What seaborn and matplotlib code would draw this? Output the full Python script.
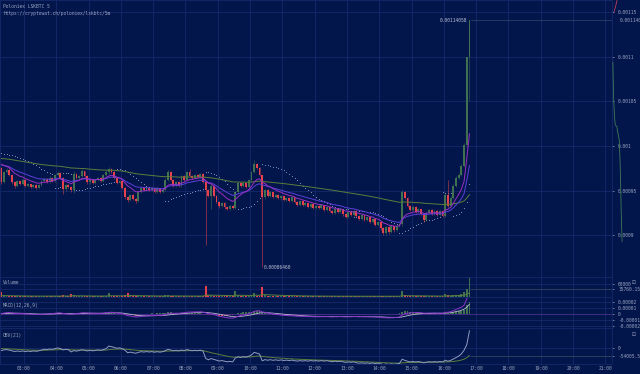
import matplotlib
matplotlib.use("Agg")
import matplotlib.pyplot as plt
import numpy as np
import pandas as pd
import seaborn as sns

# Poloniex LSK/BTC 5m candles, prices in units of 1e-7 BTC, first candle opens 02:15
start_hour = 2.25
first_open = 9754
closes = [
    9597, 9709, 9732, 9676, 9597, 9553, 9608, 9575, 9620, 9553,
    9575, 9540, 9564, 9530, 9564, 9608, 9630, 9597, 9642, 9608,
    9676, 9698, 9642, 9519, 9564, 9540, 9508, 9687, 9642, 9665,
    9720, 9665, 9597, 9620, 9586, 9620, 9642, 9608, 9676, 9709,
    9743, 9709, 9642, 9586, 9608, 9530, 9430, 9396, 9452, 9407,
    9385, 9485, 9530, 9508, 9530, 9508, 9530, 9485, 9530, 9485,
    9508, 9620, 9709, 9620, 9553, 9597, 9553, 9665, 9620, 9709,
    9665, 9642, 9676, 9653, 9687, 9597, 9508, 9441, 9553, 9441,
    9374, 9329, 9363, 9318, 9295, 9329, 9306, 9485, 9586, 9553,
    9586, 9540, 9620, 9709, 9799, 9754, 9676, 9430, 9508, 9441,
    9485, 9430, 9452, 9418, 9441, 9396, 9418, 9385, 9430, 9374,
    9340, 9385, 9340, 9363, 9318, 9352, 9306, 9329, 9306, 9340,
    9284, 9318, 9273, 9250, 9295, 9262, 9295, 9239, 9206, 9262,
    9228, 9273, 9217, 9183, 9228, 9172, 9206, 9150, 9183, 9116,
    9150, 9083, 9027, 9094, 9038, 9105, 9060, 9105, 9128, 9485,
    9418, 9329, 9284, 9318, 9262, 9295, 9239, 9172, 9250, 9284,
    9239, 9273, 9228, 9273, 9217, 9452, 9329, 9418, 9553, 9642,
    9676, 9776, 10011, 10996, 11405.8,
]
highs = [
    9770, 9720, 9750, 9740, 9690, 9610, 9620, 9615, 9640, 9630,
    9590, 9580, 9575, 9570, 9580, 9620, 9645, 9640, 9660, 9650,
    9690, 9720, 9710, 9650, 9575, 9575, 9550, 9720, 9695, 9680,
    9740, 9725, 9670, 9630, 9625, 9630, 9655, 9650, 9690, 9730,
    9770, 9750, 9715, 9650, 9620, 9615, 9540, 9440, 9465, 9460,
    9415, 9500, 9545, 9540, 9540, 9535, 9545, 9535, 9540, 9535,
    9520, 9640, 9730, 9715, 9630, 9610, 9605, 9680, 9670, 9725,
    9740, 9680, 9690, 9690, 9700, 9700, 9610, 9520, 9570, 9560,
    9450, 9385, 9375, 9370, 9330, 9340, 9340, 9500, 9600, 9600,
    9600, 9590, 9635, 9720, 9843, 9810, 9765, 9680, 9520, 9515,
    9495, 9490, 9465, 9460, 9450, 9445, 9430, 9425, 9440, 9435,
    9380, 9395, 9390, 9375, 9370, 9365, 9360, 9340, 9335, 9355,
    9345, 9330, 9325, 9280, 9310, 9300, 9305, 9300, 9245, 9275,
    9270, 9285, 9280, 9225, 9240, 9235, 9220, 9215, 9195, 9190,
    9165, 9160, 9090, 9105, 9100, 9115, 9110, 9120, 9140, 9510,
    9500, 9425, 9340, 9330, 9325, 9305, 9300, 9245, 9260, 9300,
    9290, 9285, 9280, 9285, 9280, 9470, 9620, 9440, 9570, 9660,
    9700, 9800, 10030, 11000, 11405.8,
]
lows = [
    9580, 9590, 9700, 9660, 9580, 9530, 9540, 9560, 9565, 9540,
    9540, 9530, 9535, 9520, 9525, 9555, 9600, 9585, 9590, 9600,
    9600, 9660, 9630, 9460, 9500, 9530, 9490, 9470, 9630, 9620,
    9650, 9655, 9580, 9580, 9575, 9580, 9610, 9595, 9600, 9660,
    9690, 9700, 9630, 9575, 9570, 9520, 9410, 9370, 9380, 9395,
    9360, 9370, 9470, 9500, 9500, 9495, 9500, 9475, 9470, 9470,
    9475, 9500, 9610, 9610, 9540, 9540, 9545, 9545, 9610, 9610,
    9655, 9630, 9630, 9640, 9640, 9585, 8893, 9430, 9290, 9430,
    9360, 9310, 9315, 9300, 9280, 9285, 9295, 9290, 9470, 9540,
    9545, 9530, 9530, 9610, 9700, 9740, 9665, 8646, 9410, 9430,
    9430, 9420, 9420, 9405, 9400, 9385, 9390, 9375, 9375, 9360,
    9330, 9330, 9330, 9330, 9305, 9310, 9295, 9295, 9300, 9300,
    9270, 9275, 9260, 9235, 9240, 9250, 9255, 9220, 9190, 9195,
    9215, 9220, 9205, 9170, 9175, 9160, 9160, 9140, 9140, 9100,
    9100, 9060, 9000, 9010, 9020, 9030, 9040, 9050, 9090, 9110,
    9405, 9315, 9270, 9275, 9250, 9255, 9225, 9150, 9165, 9240,
    9230, 9230, 9215, 9220, 9205, 9205, 9315, 9320, 9410, 9540,
    9630, 9660, 9760, 9990, 10500,
]
volumes = [
    22000, 4000, 2500, 3500, 5000, 4500, 3000, 2500, 3000, 4000,
    3000, 2500, 4000, 3000, 3500, 5000, 6000, 3000, 4500, 3000,
    5500, 4000, 3500, 9000, 4000, 3000, 15000, 9000, 3500, 4000,
    5000, 3000, 4500, 3500, 3000, 2500, 3500, 3000, 5000, 6000,
    18000, 4000, 5000, 6000, 3000, 6000, 9000, 18000, 4000, 3500,
    4000, 6000, 5000, 3000, 3500, 3000, 2500, 4000, 3500, 3000,
    3000, 7000, 9000, 5000, 4500, 3000, 3500, 5000, 3000, 6000,
    4000, 3500, 3000, 2500, 3500, 6000, 50000, 9000, 8000, 5000,
    6000, 5500, 3000, 4000, 4500, 3000, 3500, 26000, 9000, 4000,
    5000, 3500, 6000, 8000, 18000, 5000, 6000, 46000, 8000, 4000,
    3500, 4000, 3000, 3500, 3000, 4000, 2500, 3000, 3500, 4000,
    3000, 3500, 3000, 2500, 3000, 3500, 3000, 2500, 3000, 3500,
    3500, 3000, 4000, 3000, 3500, 3000, 2500, 4000, 3500, 3000,
    3000, 3500, 6000, 3000, 2500, 3000, 2500, 3500, 3000, 4000,
    3000, 4500, 5000, 3500, 3000, 3500, 3000, 3000, 4000, 28000,
    8000, 6000, 4500, 3500, 4000, 3000, 3500, 5000, 4000, 3500,
    3000, 3500, 3000, 3500, 3000, 12000, 7000, 6000, 9000, 10000,
    10000, 15000, 25000, 37000, 95000,
]

ema_seed = {10: 9843, 20: 9810, 100: 9866}
sar_seed = 9922
obv_start = 5000
obv_ma_seed = -2000
vol_ma_seed = 5000

# order book depth at the right edge
bid_prices = [0.001094, 0.001052, 0.001032, 0.0010235, 0.0010213, 0.0010179,
              0.0010067, 0.000981, 0.000925, 0.000893]
bid_depth = [3000, 6000, 9000, 12000, 18000, 19000, 26000, 29000, 33000, 36000]
ask_prices = [0.00115, 0.001155, 0.001163]
ask_depth = [7000, 12000, 18000]

hour_ticks = list(range(3, 22))
price_ticks = [0.0009, 0.00095, 0.001, 0.00105, 0.0011, 0.00115]
price_labels = ["0.0009", "0.00095", "0.001", "0.00105", "0.0011", "0.00115"]
vol_ticks = [60000, 35760.152]
vol_labels = ["60000", "35760.152"]
macd_ticks = [0.00002, 0.00001, 0, -0.00001, -0.00002]
macd_labels = ["0.00002", "0.00001", "0", "-0.00001", "-0.00002"]
obv_ticks = [0, -54005.52]
obv_labels = ["0", "-54005.52"]

BG = "#03164c"
GRID = "#15286a"
TXT = "#9aa4bf"
UP = "#3f7050"
DOWN = "#e5424c"
OLIVE = "#5b7d3a"

sns.set_theme(style="dark", rc={
    "figure.facecolor": BG, "axes.facecolor": BG, "axes.edgecolor": GRID,
    "grid.color": GRID, "text.color": TXT, "xtick.color": TXT, "ytick.color": TXT,
})
plt.rcParams["font.family"] = ["DejaVu Sans Mono", "DejaVu Sans"]
FS = 3.3


def ema(values, n, seed):
    a = 2 / (n + 1)
    out, prev = [], seed
    for v in values:
        prev = prev + a * (v - prev)
        out.append(prev)
    return np.array(out)


def psar(high, low, seed, step=0.02, max_step=0.2):
    sar = [seed]
    bull, af, ep = False, step, low[0]
    for i in range(1, len(high)):
        s = sar[-1] + af * (ep - sar[-1])
        if bull:
            s = min(s, low[i - 1], low[max(i - 2, 0)])
            if low[i] < s:
                bull, s, ep, af = False, ep, low[i], step
            elif high[i] > ep:
                ep, af = high[i], min(af + step, max_step)
        else:
            s = max(s, high[i - 1], high[max(i - 2, 0)])
            if high[i] > s:
                bull, s, ep, af = True, ep, high[i], step
            elif low[i] < ep:
                ep, af = low[i], min(af + step, max_step)
        sar.append(s)
    return np.array(sar)


c = np.array(closes) * 1e-7
h = np.array(highs) * 1e-7
lo = np.array(lows) * 1e-7
o = np.concatenate([[first_open * 1e-7], c[:-1]])
vol = np.array(volumes, dtype=float)
n = len(c)
t = start_hour + (np.arange(n) + 0.5) * 5 / 60
up = c >= o
cols = np.where(up, UP, DOWN)

df = pd.DataFrame({"t": t, "close": c, "vol": vol})
for k, s in ema_seed.items():
    df[f"ema{k}"] = ema(c, k, s * 1e-7)
# the SAR on this chart follows the candle bodies, not the long spikes
df["sar"] = psar(np.maximum(o, c), np.minimum(o, c), sar_seed * 1e-7)
df["vol_ma"] = ema(vol, 20, vol_ma_seed)
ema12 = ema(c, 12, c[0])
ema26 = ema(c, 26, c[0])
df["macd"] = ema12 - ema26
df["signal"] = ema(df["macd"].values, 9, 0.0)
df["hist"] = df["macd"] - df["signal"]
df["obv"] = obv_start + np.cumsum(np.where(up, vol, -vol))
df["obv_ma"] = ema(df["obv"].values, 21, obv_ma_seed)

W, H = 640, 374
fig = plt.figure(figsize=(W / 100, H / 100), dpi=100)


def box(y0, y1, x1=612):
    return [0, 1 - y1 / H, x1 / W, (y1 - y0) / H]


ax_p = fig.add_axes(box(0, 277))
ax_v = fig.add_axes(box(277, 297))
ax_m = fig.add_axes(box(297, 328))
ax_o = fig.add_axes(box(328, 364))
ax_d = fig.add_axes([612 / W, 1 - 277 / H, 28 / W, 277 / H])

xlim = (2.257, 2.257 + 612 / 32.3)
for ax in (ax_p, ax_v, ax_m, ax_o):
    ax.set_xlim(*xlim)
    ax.set_xticks(hour_ticks)
    ax.grid(True, color=GRID, linewidth=0.6)
    ax.yaxis.tick_right()
    ax.tick_params(axis="y", labelsize=FS, length=1.5, width=0.5, pad=3, colors=TXT)
    ax.tick_params(axis="x", length=0, labelbottom=False)
    for sp in ax.spines.values():
        sp.set_color(GRID)
        sp.set_linewidth(0.6)

# price panel
ax_p.set_ylim(0.00085347, 0.0011633)
ax_p.vlines(t, lo, h, colors=cols, linewidth=0.6, alpha=0.6)
ax_p.bar(t, np.maximum(np.abs(c - o), 4e-7), bottom=np.minimum(o, c), width=0.058,
         color=cols, linewidth=0)
sns.lineplot(data=df, x="t", y="ema100", ax=ax_p, color=OLIVE, linewidth=0.7)
sns.lineplot(data=df, x="t", y="ema20", ax=ax_p, color="#5a3fd8", linewidth=0.7)
sns.lineplot(data=df, x="t", y="ema10", ax=ax_p, color="#9a30c2", linewidth=0.7)
sns.scatterplot(data=df, x="t", y="sar", ax=ax_p, color="#8d9bc0", s=0.6,
                linewidth=0, legend=False)
ax_p.set_yticks(price_ticks, price_labels)
hi_i = int(np.argmax(h))
lo_i = int(np.argmin(lo))
ax_p.plot([t[hi_i] + 0.04, xlim[1]], [h[hi_i], h[hi_i]], color="#34446e",
          linewidth=0.5)
ax_p.text(t[hi_i] - 0.06, h[hi_i], f"{h[hi_i]:.8f}", fontsize=FS, ha="right",
          va="center", color="#b8bfd4")
ax_p.text(t[lo_i] + 0.06, lo[lo_i], f"{lo[lo_i]:.8f}", fontsize=FS, ha="left",
          va="center", color="#b8bfd4")
ax_p.text(1.013, h[hi_i], f"{h[hi_i]:.8f}", transform=ax_p.get_yaxis_transform(),
          fontsize=FS, va="center", color=TXT)

# depth
ax_d.set_ylim(ax_p.get_ylim())
ax_d.set_xlim(0, 100000)
ax_d.plot(bid_depth, bid_prices, color="#3f7a55", linewidth=0.6)
ax_d.plot(ask_depth, ask_prices, color="#c0405a", linewidth=0.6)
ax_d.axis("off")

# volume panel
ax_v.set_ylim(0, 92300)
ax_v.bar(t, vol, width=0.058, color=cols, linewidth=0)
sns.lineplot(data=df, x="t", y="vol_ma", ax=ax_v, color=OLIVE, linewidth=0.7)
ax_v.set_yticks(vol_ticks, vol_labels)
ax_v.plot([t[-1] + 0.04, xlim[1]], [vol_ticks[1]] * 2, color="#3a4a5a",
          linewidth=0.5)

# macd panel
ax_m.set_ylim(-2.38e-5, 2.78e-5)
ax_m.bar(t, df["hist"], width=0.058, color=np.where(df["hist"] >= 0, UP, DOWN),
         linewidth=0)
ax_m.axhline(0, color="#4a2f8a", linewidth=0.6)
sns.lineplot(data=df, x="t", y="signal", ax=ax_m, color="#b7b9d0", linewidth=0.6)
sns.lineplot(data=df, x="t", y="macd", ax=ax_m, color="#8e35c8", linewidth=0.7)
ax_m.set_yticks(macd_ticks, macd_labels)

# obv panel
ax_o.set_ylim(-108000, 135000)
sns.lineplot(data=df, x="t", y="obv_ma", ax=ax_o, color=OLIVE, linewidth=0.7)
sns.lineplot(data=df, x="t", y="obv", ax=ax_o, color="#8f9cc0", linewidth=0.7)
ax_o.plot([t[-1] + 0.04, xlim[1]], [obv_ticks[1]] * 2, color="#3a4a5a",
          linewidth=0.5)
ax_o.set_yticks(obv_ticks, obv_labels)
ax_o.tick_params(axis="x", labelbottom=True, labelsize=FS, pad=1.8, colors=TXT)
ax_o.set_xticks(hour_ticks, [f"{x:02d}:00" for x in hour_ticks])

for ax in (ax_p, ax_v, ax_m, ax_o):
    ax.set_xlabel("")
    ax.set_ylabel("")


def ftext(x, y, s, **kw):
    fig.text(x / W, 1 - y / H, s, fontsize=FS, va="center", color=TXT, **kw)


ftext(3, 7, "Poloniex LSKBTC 5")
ftext(3, 14, "https://cryptowat.ch/poloniex/lskbtc/5m")
ftext(3, 282, "Volume")
ftext(3, 305, "MACD(12,26,9)")
ftext(3, 335, "OBV(21)")
ftext(632, 283, "\u22a1", family="DejaVu Sans")
ftext(632, 335, "\u22a1", family="DejaVu Sans")

fig.savefig("out.png", dpi=100, facecolor=BG)
